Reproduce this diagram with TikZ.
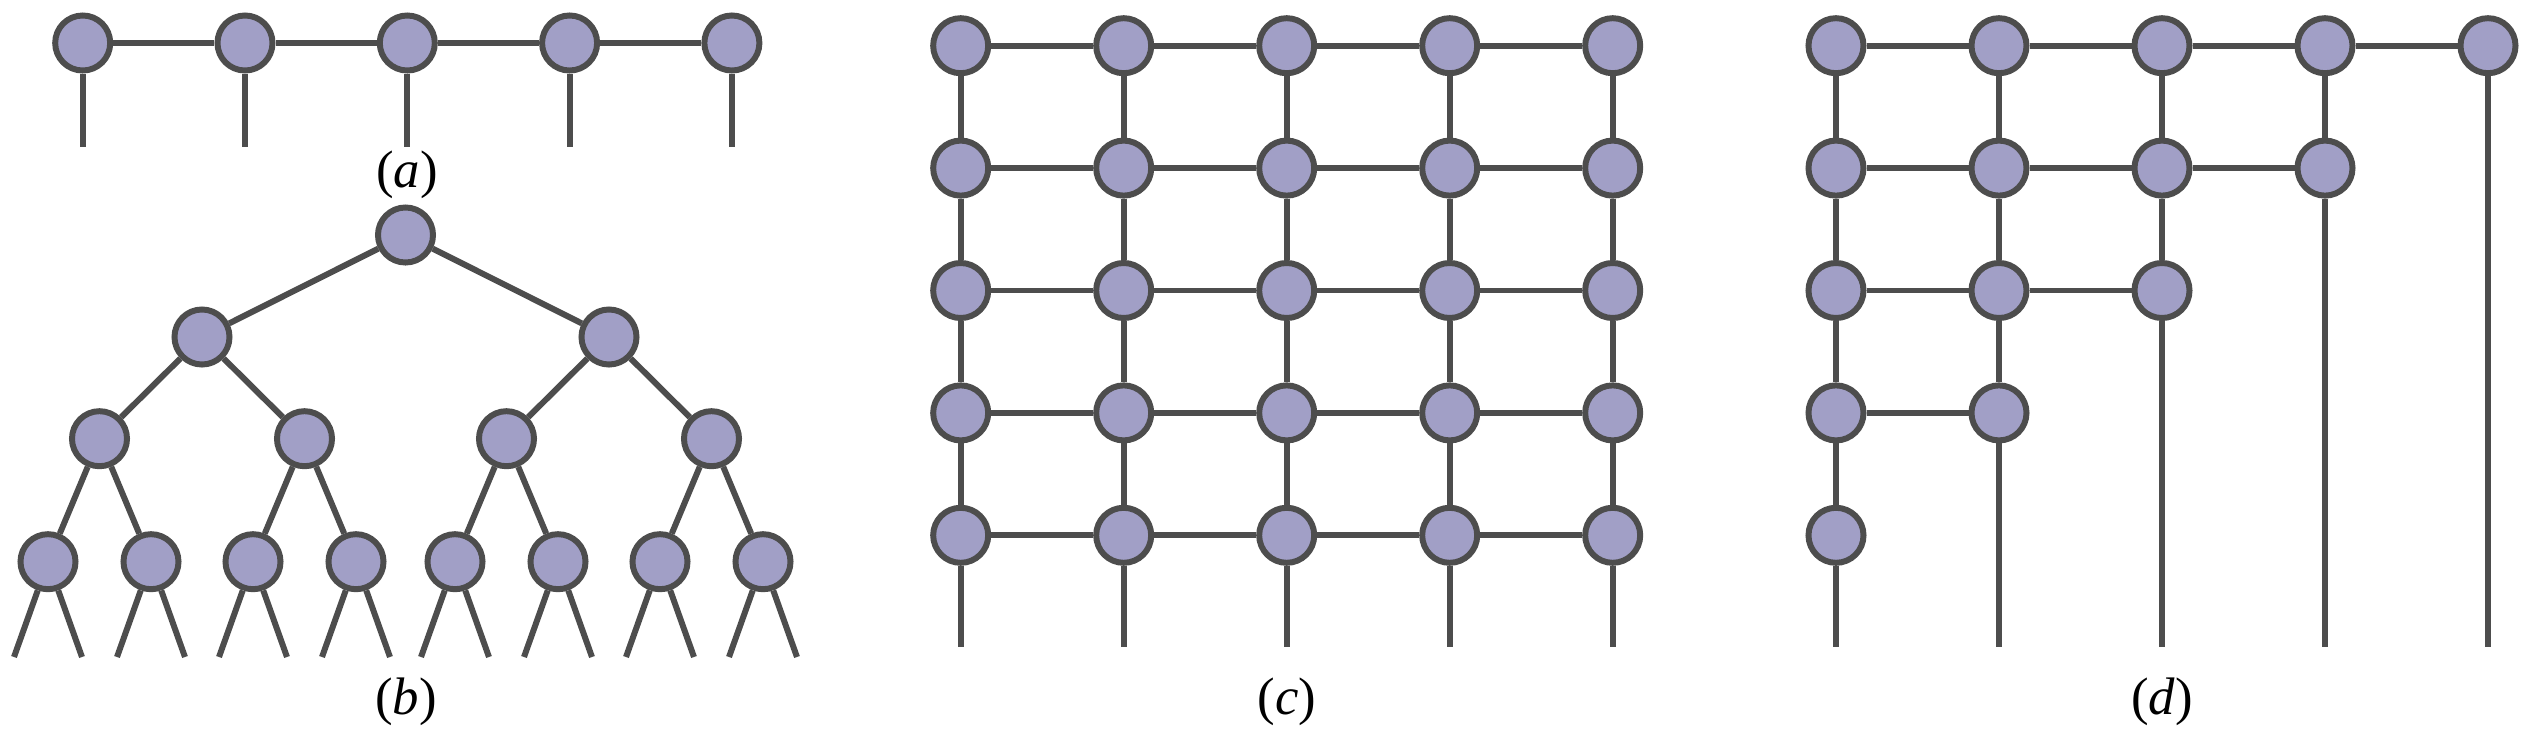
\documentclass[tikz,border=0pt]{standalone}
\usepackage{tikz}
\usepackage{fontspec}
\newfontfamily\labfont{Liberation Serif}
\definecolor{nodefill}{HTML}{A19FC6}
\definecolor{edgegray}{HTML}{4D4D4D}
\begin{document}
\begin{tikzpicture}[x=0.01cm,y=-0.01cm,
  vert/.style={circle,draw=edgegray,fill=nodefill,line width=1.7pt,minimum size=0.55cm,inner sep=0pt},
  edge/.style={draw=edgegray,line width=1.7pt},
  lab/.style={font=\labfont\fontsize{15}{18}\selectfont,inner sep=0pt}]
\useasboundingbox (0,0) rectangle (2538,730);
% ---------- (a)
\foreach \i in {0,...,4}{
  \node[vert] (a\i) at ({82.7+162.3*\i},43) {};
  \coordinate (ae\i) at ({82.7+162.3*\i},147);
}
\foreach \i [evaluate=\i as \k using int(\i+1)] in {0,...,3}{
  \draw[edge] (a\i) -- (a\k);
}
\foreach \i in {0,...,4}{\draw[edge] (a\i) -- (ae\i);}
\node[lab] (la) at (407,175) {(\textit{a})};
% ---------- (b)
\node[vert] (t) at (405.5,235) {};
\node[vert] (t0) at (202,337) {};
\node[vert] (t1) at (609,337) {};
\node[vert] (t00) at (99.5,438.7) {};
\node[vert] (t01) at (304.5,438.7) {};
\node[vert] (t10) at (506.5,438.7) {};
\node[vert] (t11) at (711.5,438.7) {};
\foreach \x [count=\n from 0] in {48,151,253,356,455,558,660,763}{
  \node[vert] (l\n) at (\x,561.7) {};
  \coordinate (lel\n) at ({\x-34},657);
  \coordinate (ler\n) at ({\x+34},657);
}
\draw[edge] (t) -- (t0); \draw[edge] (t) -- (t1);
\draw[edge] (t0) -- (t00); \draw[edge] (t0) -- (t01);
\draw[edge] (t1) -- (t10); \draw[edge] (t1) -- (t11);
\draw[edge] (t00) -- (l0); \draw[edge] (t00) -- (l1);
\draw[edge] (t01) -- (l2); \draw[edge] (t01) -- (l3);
\draw[edge] (t10) -- (l4); \draw[edge] (t10) -- (l5);
\draw[edge] (t11) -- (l6); \draw[edge] (t11) -- (l7);
\foreach \n in {0,...,7}{
  \draw[edge] (l\n) -- (lel\n);
  \draw[edge] (l\n) -- (ler\n);
}
\node[lab] (lb) at (406,702) {(\textit{b})};
% ---------- (c)
\foreach \i in {0,...,4}{
  \foreach \j in {0,...,4}{
    \node[vert] (c\i\j) at ({960.7+163*\i},{45.7+122.4*\j}) {};
  }
  \coordinate (ce\i) at ({960.7+163*\i},647);
}
\foreach \i [evaluate=\i as \k using int(\i+1)] in {0,...,3}{
  \foreach \j in {0,...,4}{
    \draw[edge] (c\i\j) -- (c\k\j);
    \draw[edge] (c\j\i) -- (c\j\k);
  }
}
\foreach \i in {0,...,4}{\draw[edge] (c\i4) -- (ce\i);}
\node[lab] (lc) at (1287,702) {(\textit{c})};
% ---------- (d)
\foreach \i in {0,...,4}{
  \pgfmathtruncatemacro\jmax{4-\i}
  \foreach \j in {0,...,\jmax}{
    \node[vert] (d\i\j) at ({1836+163*\i},{45.7+122.4*\j}) {};
  }
  \coordinate (de\i) at ({1836+163*\i},647);
}
\foreach \i in {0,...,3}{
  \pgfmathtruncatemacro\jm{3-\i}
  \foreach \j in {0,...,\jm}{
    \pgfmathtruncatemacro\k{\j+1}
    \draw[edge] (d\i\j) -- (d\i\k);
  }
}
\foreach \j in {0,...,3}{
  \pgfmathtruncatemacro\im{3-\j}
  \foreach \i in {0,...,\im}{
    \pgfmathtruncatemacro\k{\i+1}
    \draw[edge] (d\i\j) -- (d\k\j);
  }
}
\foreach \i in {0,...,4}{
  \pgfmathtruncatemacro\jm{4-\i}
  \draw[edge] (d\i\jm) -- (de\i);
}
\node[lab] (ld) at (2162,702) {(\textit{d})};
\end{tikzpicture}
\end{document}
